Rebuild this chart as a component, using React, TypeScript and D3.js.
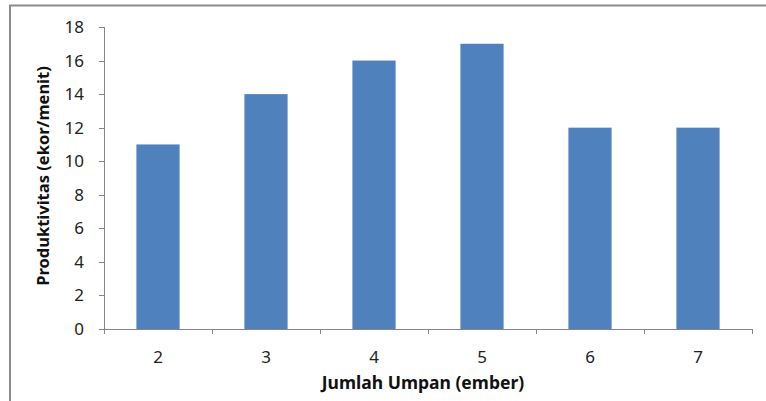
import * as d3 from 'd3'

const categories = ['2', '3', '4', '5', '6', '7']
const values = [11, 14, 16, 17, 12, 12]
const yTicks = [0, 2, 4, 6, 8, 10, 12, 14, 16, 18]
const xTitle = 'Jumlah Umpan (ember)'
const yTitle = 'Produktivitas (ekor/menit)'

const width = 766
const height = 401
const margin = { top: 27, right: 14, bottom: 72, left: 104 }
const font = '"Noto Sans", "Open Sans", sans-serif'

export default function App() {
  const innerW = width - margin.left - margin.right
  const innerH = height - margin.top - margin.bottom

  const x = d3.scaleBand().domain(categories).range([0, innerW]).paddingInner(0.6).paddingOuter(0.3)
  const xOuter = d3.scaleBand().domain(categories).range([0, innerW])
  const y = d3.scaleLinear().domain([0, 18]).range([innerH, 0])

  const axisColor = '#868686'

  return (
    <svg width={width} height={height} style={{ position: 'absolute', left: 0, top: 0, background: '#fff' }}>
      <line x1={9} x2={width} y1={5.5} y2={5.5} stroke="#8c8c8c" strokeWidth={2} />
      <line x1={10} x2={10} y1={5} y2={height} stroke="#8c8c8c" strokeWidth={2} />
      <g transform={`translate(${margin.left},${margin.top})`}>
        {categories.map((c, i) => (
          <rect key={c} x={x(c)} y={y(values[i])} width={x.bandwidth()} height={innerH - y(values[i])} fill="#4F81BD" />
        ))}
        <line x1={0.5} x2={0.5} y1={0} y2={innerH} stroke={axisColor} />
        {yTicks.map(t => (
          <g key={t} transform={`translate(0,${Math.round(y(t)) + 0.5})`}>
            <line x1={-5} x2={0} stroke={axisColor} />
            <text x={-20} dy="0.35em" textAnchor="end" fontFamily={font} fontSize={17} fill="#222">{t}</text>
          </g>
        ))}
        <line x1={0} x2={innerW} y1={innerH + 0.5} y2={innerH + 0.5} stroke={axisColor} />
        {categories.concat(['end']).map((c, i) => (
          <line key={c} x1={Math.round(i * xOuter.bandwidth()) + 0.5} x2={Math.round(i * xOuter.bandwidth()) + 0.5} y1={innerH} y2={innerH + 5} stroke={axisColor} />
        ))}
        {categories.map(c => (
          <text key={c} x={(x(c) ?? 0) + x.bandwidth() / 2} y={innerH + 28} dy="0.35em" textAnchor="middle" fontFamily={font} fontSize={17} fill="#222">{c}</text>
        ))}
        <text x={innerW / 2 - 5} y={innerH + 54} dy="0.35em" textAnchor="middle" fontFamily={font} fontSize={17.5} fontWeight="bold" fill="#111">{xTitle}</text>
        <text transform={`translate(${43 - margin.left},${innerH / 2 - 2}) rotate(-90)`} dy="0.35em" textAnchor="middle" fontFamily={font} fontSize={16.5} fontWeight="bold" fill="#111">{yTitle}</text>
      </g>
    </svg>
  )
}
